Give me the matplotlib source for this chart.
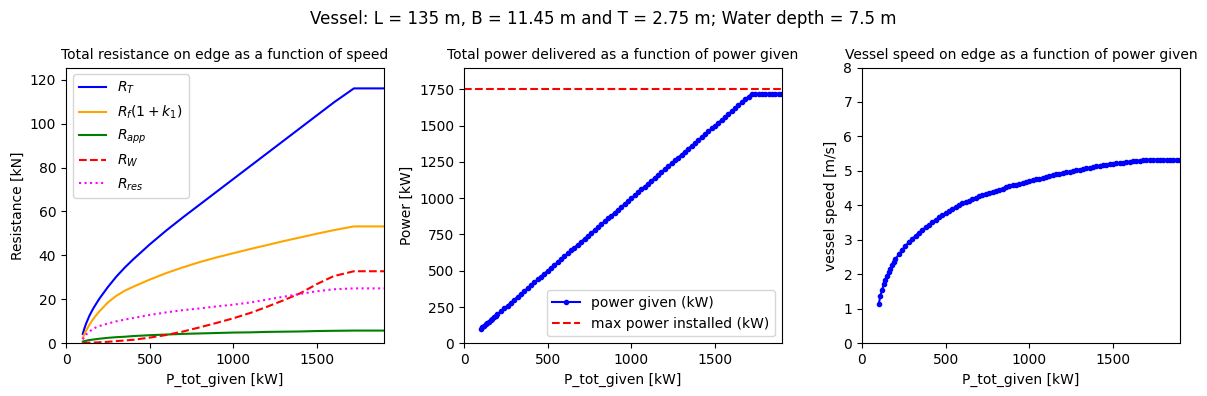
import numpy as np
import matplotlib
matplotlib.use("Agg")
import matplotlib.pyplot as plt

# power given to the engine (kW)
P_given = [100, 110, 120, 130, 140, 150, 160, 170, 180, 190, 200,
           220, 240, 260, 280, 300, 320, 340, 360, 380, 400,
           420, 440, 460, 480, 500, 520, 540, 560, 580, 600,
           620, 640, 660, 680, 700, 720, 740, 760, 780, 800,
           820, 840, 860, 880, 900, 920, 940, 960, 980, 1000,
           1020, 1040, 1060, 1080, 1100, 1120, 1140, 1160, 1180, 1200,
           1220, 1240, 1260, 1280, 1300, 1320, 1340, 1360, 1380, 1400,
           1420, 1440, 1460, 1480, 1500, 1520, 1540, 1560, 1580, 1600,
           1620, 1640, 1660, 1680, 1700, 1720, 1740, 1760, 1780, 1800,
           1820, 1840, 1860, 1880, 1900]

# power actually delivered (kW)
P_delivered = [100, 110, 120, 130, 140, 150, 160, 170, 180, 190, 200,
               220, 240, 260, 280, 300, 320, 340, 360, 380, 400,
               420, 440, 460, 480, 500, 520, 540, 560, 580, 600,
               620, 640, 660, 680, 700, 720, 740, 760, 780, 800,
               820, 840, 860, 880, 900, 920, 940, 960, 980, 1000,
               1020, 1040, 1060, 1080, 1100, 1120, 1140, 1160, 1180, 1200,
               1220, 1240, 1260, 1280, 1300, 1320, 1340, 1360, 1380, 1400,
               1420, 1440, 1460, 1480, 1500, 1520, 1540, 1560, 1580, 1600,
               1620, 1640, 1660, 1680, 1700, 1720, 1720, 1720, 1720, 1720,
               1720, 1720, 1720, 1720, 1720]

# vessel speed (m/s)
speed = [1.14, 1.37, 1.55, 1.71, 1.84, 1.96, 2.07, 2.17, 2.27, 2.36, 2.44,
         2.58, 2.71, 2.83, 2.93, 3.03, 3.12, 3.21, 3.29, 3.37, 3.44,
         3.51, 3.58, 3.65, 3.71, 3.77, 3.84, 3.90, 3.96, 4.01, 4.06,
         4.10, 4.14, 4.18, 4.22, 4.26, 4.30, 4.33, 4.37, 4.40, 4.43,
         4.46, 4.49, 4.52, 4.55, 4.58, 4.60, 4.63, 4.66, 4.68, 4.71,
         4.73, 4.76, 4.78, 4.80, 4.83, 4.85, 4.87, 4.90, 4.92, 4.94,
         4.96, 4.98, 5.00, 5.02, 5.04, 5.06, 5.08, 5.09, 5.11, 5.13,
         5.14, 5.16, 5.17, 5.19, 5.20, 5.22, 5.23, 5.24, 5.25, 5.27,
         5.28, 5.29, 5.30, 5.31, 5.32, 5.33, 5.33, 5.33, 5.33, 5.33,
         5.33, 5.33, 5.33, 5.33, 5.33]

P_max_installed = 1750

# resistance components (kN)
P_res = [100, 110, 120, 140, 160, 180, 200, 250, 300, 350, 400, 500, 600,
         700, 800, 900, 1000, 1100, 1200, 1300, 1400, 1500, 1600, 1720,
         1800, 1900]
R_T = [4.3, 6.8, 9.0, 12.6, 15.5, 18.0, 20.4, 25.6, 30.3, 34.4, 38.1, 45.0,
       51.4, 57.4, 63.2, 69.0, 74.8, 80.6, 86.4, 92.2, 98.0, 103.8, 109.6,
       116.0, 116.0, 116.0]
R_f = [2.3, 4.2, 5.8, 8.5, 10.8, 12.8, 14.6, 18.6, 21.6, 23.9, 25.7, 29.0,
       32.0, 34.6, 37.0, 39.1, 41.0, 42.9, 44.7, 46.5, 48.2, 49.9, 51.5,
       53.2, 53.2, 53.2]
R_app = [0.8, 1.0, 1.2, 1.5, 1.7, 1.9, 2.1, 2.5, 2.8, 3.0, 3.3, 3.7, 4.0,
         4.3, 4.5, 4.7, 4.9, 5.0, 5.2, 5.3, 5.4, 5.6, 5.7, 5.8, 5.8, 5.8]
R_W = [0.2, 0.2, 0.3, 0.3, 0.4, 0.4, 0.5, 0.7, 1.0, 1.3, 1.6, 2.6, 3.8,
       5.4, 7.3, 9.3, 11.4, 13.8, 16.6, 19.6, 22.8, 27.0, 30.6, 32.8,
       32.8, 32.8]
R_res = [1.8, 3.0, 4.0, 5.4, 6.5, 7.3, 7.9, 9.0, 10.0, 10.8, 11.5, 12.9,
         14.1, 15.1, 15.9, 16.8, 17.6, 18.6, 19.9, 21.2, 22.5, 23.7, 24.6,
         25.0, 25.0, 25.0]

fig, axs = plt.subplots(1, 3, figsize=(12.07, 3.96), dpi=100)
fig.subplots_adjust(left=0.0547, right=0.9776, bottom=0.133, top=0.8295, wspace=0.2516)
fig.suptitle("Vessel: L = 135 m, B = 11.45 m and T = 2.75 m; Water depth = 7.5 m",
             fontsize=12, y=0.975)

# resistance
ax = axs[0]
ax.plot(P_res, R_T, color='blue', label='$R_T$')
ax.plot(P_res, R_f, color='orange', label='$R_f(1+k_1)$')
ax.plot(P_res, R_app, color='green', label='$R_{app}$')
ax.plot(P_res, R_W, color='red', linestyle='--', label='$R_W$')
ax.plot(P_res, R_res, color='magenta', linestyle=':', label='$R_{res}$')
ax.set_xlim(0, 1900)
ax.set_ylim(0, 125.5)
ax.set_title("Total resistance on edge as a function of speed", fontsize=10)
ax.set_xlabel("P_tot_given [kW]")
ax.set_ylabel("Resistance [kN]")
ax.legend(loc='upper left')

# power
ax = axs[1]
ax.plot(P_given, P_delivered, '.-', color='blue', label='power given (kW)')
ax.axhline(P_max_installed, color='red', linestyle='--', label='max power installed (kW)')
ax.set_xlim(0, 1900)
ax.set_ylim(0, 1900)
ax.set_title("Total power delivered as a function of power given", fontsize=10)
ax.set_xlabel("P_tot_given [kW]")
ax.set_ylabel("Power [kW]")
ax.legend(loc='lower right')

# speed
ax = axs[2]
ax.plot(P_given, speed, '.-', color='blue')
ax.set_xlim(0, 1900)
ax.set_ylim(0, 8)
ax.set_title("Vessel speed on edge as a function of power given", fontsize=10)
ax.set_xlabel("P_tot_given [kW]")
ax.set_ylabel("vessel speed [m/s]")

plt.savefig("out.png")
